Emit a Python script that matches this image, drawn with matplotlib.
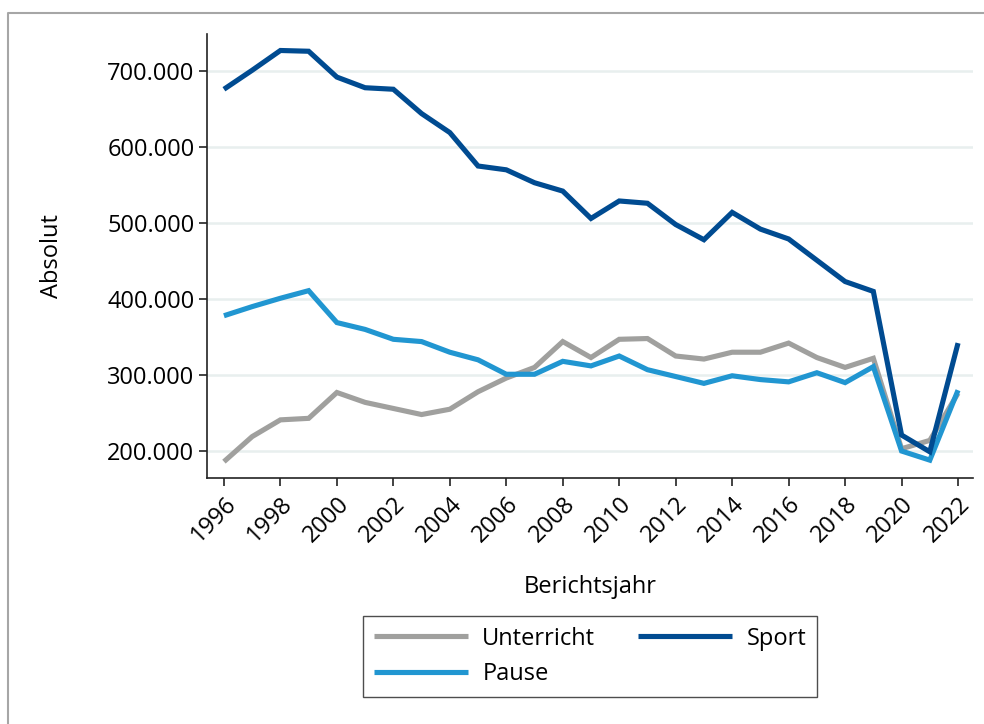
import matplotlib
matplotlib.use("Agg")
import matplotlib.pyplot as plt
from matplotlib.lines import Line2D
from matplotlib.ticker import FuncFormatter, MultipleLocator

plt.rcParams['font.family'] = ['Open Sans', 'DejaVu Sans']

years = list(range(1996, 2023))
unterricht = [186, 219, 241, 243, 277, 264, 256, 248, 255, 278, 296, 310, 344, 323,
              347, 348, 325, 321, 330, 330, 342, 323, 310, 322, 203, 214, 276]
pause = [378, 390, 401, 411, 369, 360, 347, 344, 330, 320, 301, 301, 318, 312,
         325, 307, 298, 289, 299, 294, 291, 303, 290, 311, 200, 188, 280]
sport = [676, 701, 727, 726, 692, 678, 676, 644, 619, 575, 570, 553, 542, 506,
         529, 526, 498, 478, 514, 492, 479, 451, 423, 410, 221, 199, 342]
series_names = ["Unterricht", "Pause", "Sport"]
colors = ["#a0a09e", "#2196d1", "#004b91"]

FS = 17

fig = plt.figure(figsize=(9.84, 7.24), dpi=100)
ax = fig.add_axes([207/984, 1 - 478/724, 766/984, 444/724])

for name, vals, c in zip(series_names, [unterricht, pause, sport], colors):
    ax.plot(years, [v * 1000 for v in vals], color=c, lw=3.7, label=name,
            solid_joinstyle='miter', solid_capstyle='butt')

ax.set_xlim(1995.4, 2022.53)
ax.set_ylim(164500, 748700)
ax.xaxis.set_major_locator(MultipleLocator(2))
ax.set_yticks([200000, 300000, 400000, 500000, 600000, 700000])
ax.yaxis.set_major_formatter(FuncFormatter(lambda v, p: f"{v:,.0f}".replace(",", ".")))
ax.grid(axis='y', color='#e8efee', lw=1.8)
ax.set_axisbelow(True)
for s in ['top', 'right']:
    ax.spines[s].set_visible(False)
for s in ['left', 'bottom']:
    ax.spines[s].set_linewidth(1.2)
    ax.spines[s].set_color('#222222')
ax.tick_params(axis='both', length=6, width=1.2, labelsize=FS, color='#222222')
ax.tick_params(axis='y', pad=3)
ax.tick_params(axis='x', pad=4)
plt.setp(ax.get_xticklabels(), rotation=45, ha='right', rotation_mode='anchor')

ax.set_xlabel("Berichtsjahr", fontsize=FS, labelpad=20)
ax.set_ylabel("Absolut", fontsize=FS, labelpad=31)

leg = ax.legend(ncol=2, loc='center', bbox_to_anchor=(590/984, 1 - 656.5/724),
                bbox_transform=fig.transFigure, fontsize=FS, frameon=True,
                fancybox=False, edgecolor='#222222', handlelength=4.0,
                columnspacing=1.8, borderpad=0.45, labelspacing=0.5, handletextpad=0.6)
leg.get_frame().set_linewidth(1.0)

fig.add_artist(Line2D([8/984, 8/984, 1], [0, 1 - 12.5/724, 1 - 12.5/724],
                      transform=fig.transFigure, color='#a6a6a6', lw=1.5))

fig.savefig("out.png", dpi=100)
